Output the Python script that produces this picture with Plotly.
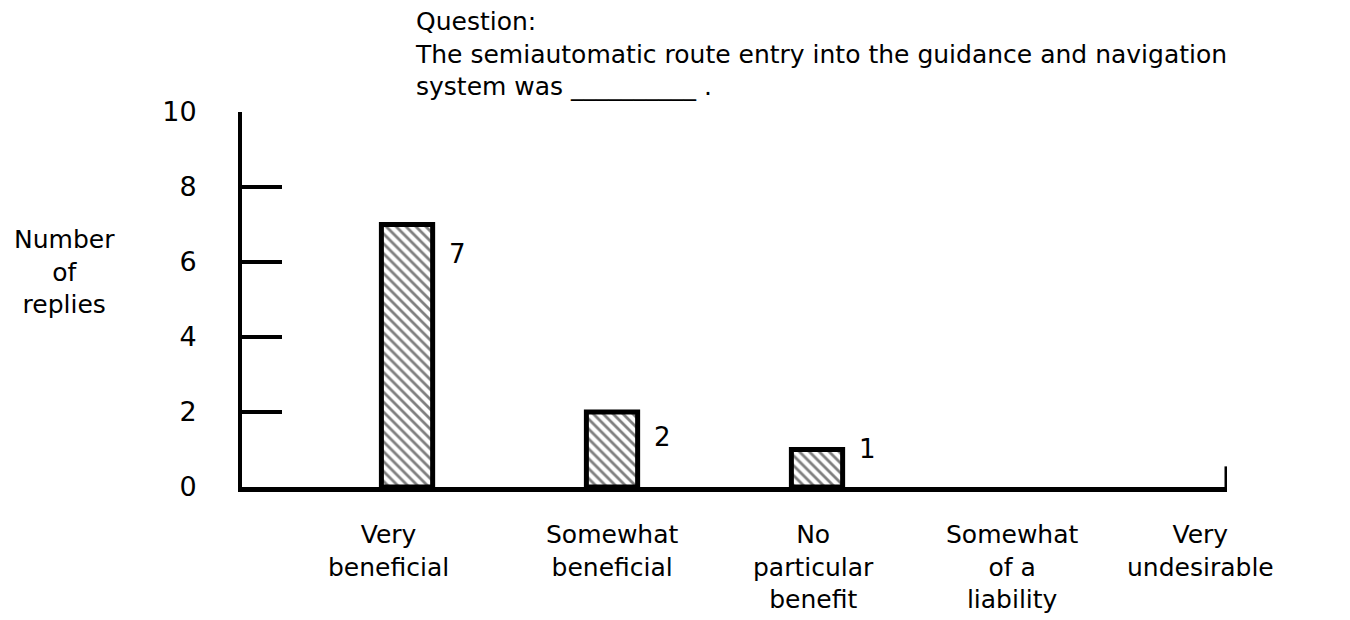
import plotly.graph_objects as go

categories = ["Very<br>beneficial", "Somewhat<br>beneficial", "No<br>particular<br>benefit",
              "Somewhat<br>of a<br>liability", "Very<br>undesirable"]
replies = [7, 2, 1, 0, 0]
value_labels = ["7", "2", "1", "", ""]
y_ticks = [0, 2, 4, 6, 8, 10]
question = "Question:<br>The semiautomatic route entry into the guidance and navigation<br>system was __________ ."
y_title = "Number<br>of<br>replies"

FONT = "DejaVu Sans"
xpos = list(range(len(categories)))

fig = go.Figure()
bar_x = [x for x, v in zip(xpos, replies) if v > 0]
bar_y = [v for v in replies if v > 0]
fig.add_trace(go.Bar(
    x=bar_x, y=bar_y, width=0.25,
    marker=dict(color="white", line=dict(color="black", width=5),
                pattern=dict(shape="\\", fgcolor="black", bgcolor="white", size=7, solidity=0.4)),
    showlegend=False, hoverinfo="skip",
))

label_yshift = [-12, -8, 18, 0, 0]
cat_xshift = [-19, 0, -4, -10, -27]

annotations = []
for x, v, t, ys in zip(xpos, replies, value_labels, label_yshift):
    if t:
        annotations.append(dict(x=x, y=v, xref="x", yref="y", text=t, showarrow=False,
                                xanchor="left", yanchor="top", xshift=40, yshift=ys,
                                font=dict(family=FONT, size=26, color="black")))
for x, c, xs in zip(xpos, categories, cat_xshift):
    annotations.append(dict(x=x, y=0, xref="x", yref="y", text=c, showarrow=False,
                            xanchor="center", yanchor="top", yshift=-31, xshift=xs,
                            font=dict(family=FONT, size=25, color="black")))
annotations.append(dict(x=-0.18, y=0.573, xref="paper", yref="paper",
                        text=y_title, showarrow=False, align="center",
                        xanchor="center", yanchor="middle",
                        font=dict(family=FONT, size=25, color="black")))
annotations.append(dict(x=0.174, y=1.285, xref="paper", yref="paper",
                        text=question, showarrow=False, align="left", xanchor="left", yanchor="top",
                        font=dict(family=FONT, size=25, color="black")))

fig.add_shape(type="line", x0=4, x1=4, y0=0, y1=0.55, xref="x", yref="y",
              line=dict(color="black", width=5))

fig.update_layout(
    width=1350, height=620,
    margin=dict(l=234, r=131, t=104, b=141),
    plot_bgcolor="white", paper_bgcolor="white",
    annotations=annotations,
    xaxis=dict(range=[-0.805, 4.0], showticklabels=False, ticks="", showgrid=False,
               zeroline=False, showline=True, linecolor="black", linewidth=5),
    yaxis=dict(range=[0, 10], tickvals=y_ticks, ticks="inside", ticklen=40, tickwidth=4,
               tickcolor="black", showgrid=False, zeroline=False, showline=True,
               linecolor="black", linewidth=4, ticklabelstandoff=36,
               tickfont=dict(family=FONT, size=27, color="black")),
)

fig.write_html("out.html")
